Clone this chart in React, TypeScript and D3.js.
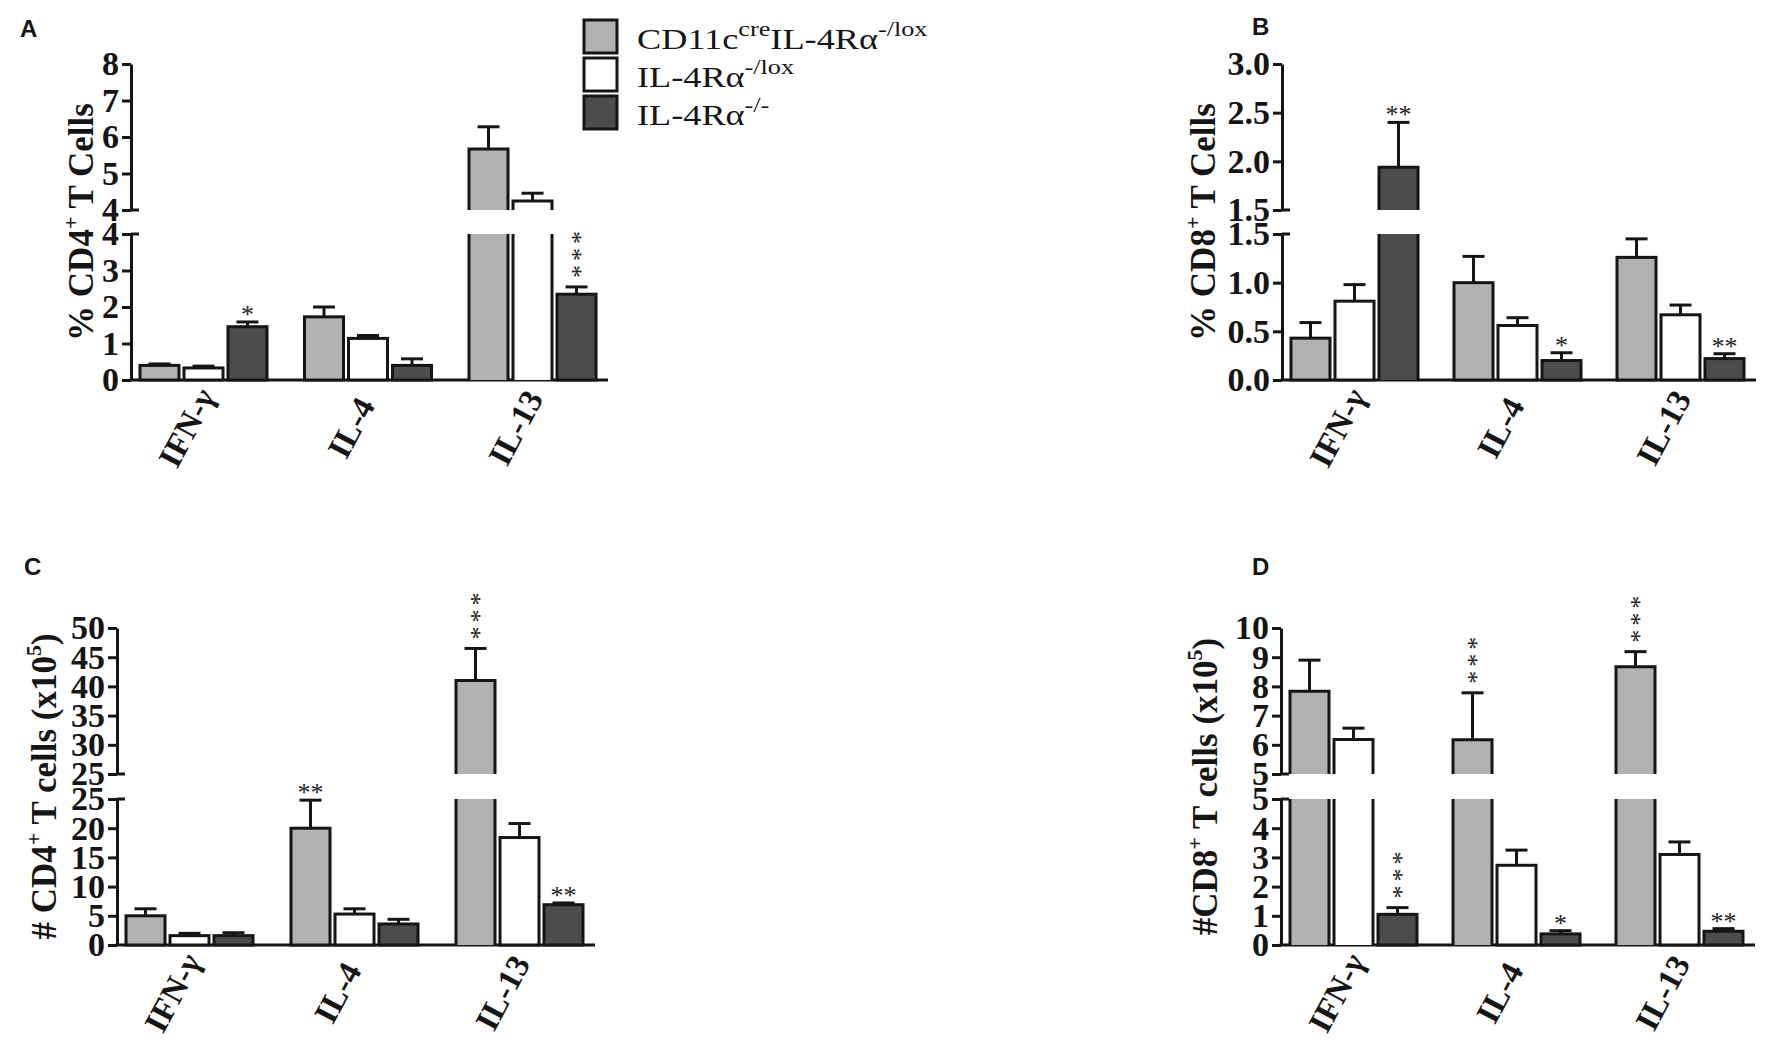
import React, { useEffect, useRef } from 'react';
import * as d3 from 'd3';

// categories and groups
const cytokines = ['IFN-γ', 'IL-4', 'IL-13'];
const strains = ['cre', 'flox', 'ko'];
const strainFills = ['#b1b1b1', '#ffffff', '#4c4c4c'];

// legend labels: [main, sup, main, sup]
const legendLabels = [
  ['CD11c', 'cre', 'IL-4Rα', '-/lox'],
  ['IL-4Rα', '-/lox', '', ''],
  ['IL-4Rα', '-/-', '', ''],
];

// A: % CD4+ T cells
const cd4PctCre = [0.40, 1.73, 5.67];
const cd4PctFlox = [0.33, 1.14, 4.25];
const cd4PctKo = [1.46, 0.40, 2.35];
const cd4PctCreErr = [0.44, 2.00, 6.28];
const cd4PctFloxErr = [0.38, 1.22, 4.46];
const cd4PctKoErr = [1.59, 0.58, 2.55];
const cd4PctStars = [['', '', '*'], ['', '', ''], ['', '', '***']];

// B: % CD8+ T cells
const cd8PctCre = [0.43, 1.00, 1.26];
const cd8PctFlox = [0.81, 0.56, 0.67];
const cd8PctKo = [1.94, 0.20, 0.22];
const cd8PctCreErr = [0.59, 1.27, 1.45];
const cd8PctFloxErr = [0.98, 0.64, 0.77];
const cd8PctKoErr = [2.40, 0.28, 0.27];
const cd8PctStars = [['', '', '**'], ['', '', '*'], ['', '', '**']];

// C: # CD4+ T cells (x10^5)
const cd4NumCre = [5.0, 20.0, 41.0];
const cd4NumFlox = [1.6, 5.3, 18.4];
const cd4NumKo = [1.6, 3.6, 6.9];
const cd4NumCreErr = [6.2, 24.8, 46.5];
const cd4NumFloxErr = [2.0, 6.2, 20.8];
const cd4NumKoErr = [2.1, 4.4, 7.2];
const cd4NumStars = [['', '', ''], ['**', '', ''], ['***', '', '**']];

// D: # CD8+ T cells (x10^5)
const cd8NumCre = [7.83, 6.17, 8.67];
const cd8NumFlox = [6.18, 2.73, 3.10];
const cd8NumKo = [1.05, 0.38, 0.47];
const cd8NumCreErr = [8.90, 7.78, 9.19];
const cd8NumFloxErr = [6.57, 3.25, 3.53];
const cd8NumKoErr = [1.28, 0.49, 0.56];
const cd8NumStars = [['', '', '***'], ['***', '', '*'], ['***', '', '**']];

// axis ticks
const cd4PctLowTicks = [0, 1, 2, 3, 4];
const cd4PctHighTicks = [4, 5, 6, 7, 8];
const cd8PctLowTicks = [0, 0.5, 1.0, 1.5];
const cd8PctHighTicks = [1.5, 2.0, 2.5, 3.0];
const cd4NumLowTicks = [0, 5, 10, 15, 20, 25];
const cd4NumHighTicks = [25, 30, 35, 40, 45, 50];
const cd8NumLowTicks = [0, 1, 2, 3, 4, 5];
const cd8NumHighTicks = [5, 6, 7, 8, 9, 10];

const SERIF = '"Liberation Serif", "Times New Roman", serif';
const SANS = '"Liberation Sans", Arial, sans-serif';
const INK = '#151515';

const topRow = { zeroY: 380, lowTopY: 234, upBotY: 210, topY: 64 };
const bottomRow = { zeroY: 945, lowTopY: 799, upBotY: 774, topY: 628 };

const panels = [
  {
    letter: 'A', letterX: 20, letterY: 37, ...topRow,
    axisX: 131, pitch: 164.5, titleX: 93,
    title: ['% CD4', '+', ' T Cells', '', ''],
    brk: 4, max: 8, lowTicks: cd4PctLowTicks, highTicks: cd4PctHighTicks, fmt: d3.format('d'),
    means: [cd4PctCre, cd4PctFlox, cd4PctKo], errs: [cd4PctCreErr, cd4PctFloxErr, cd4PctKoErr],
    stars: cd4PctStars,
  },
  {
    letter: 'B', letterX: 1252, letterY: 35, ...topRow,
    axisX: 1282, pitch: 163, titleX: 1215,
    title: ['% CD8', '+', ' T Cells', '', ''],
    brk: 1.5, max: 3, lowTicks: cd8PctLowTicks, highTicks: cd8PctHighTicks, fmt: d3.format('.1f'),
    means: [cd8PctCre, cd8PctFlox, cd8PctKo], errs: [cd8PctCreErr, cd8PctFloxErr, cd8PctKoErr],
    stars: cd8PctStars,
  },
  {
    letter: 'C', letterX: 24, letterY: 575, ...bottomRow,
    axisX: 117, pitch: 165, titleX: 56,
    title: ['# CD4', '+', ' T cells (x10', '5', ')'],
    brk: 25, max: 50, lowTicks: cd4NumLowTicks, highTicks: cd4NumHighTicks, fmt: d3.format('d'),
    means: [cd4NumCre, cd4NumFlox, cd4NumKo], errs: [cd4NumCreErr, cd4NumFloxErr, cd4NumKoErr],
    stars: cd4NumStars,
  },
  {
    letter: 'D', letterX: 1252, letterY: 575, ...bottomRow,
    axisX: 1281, pitch: 163, titleX: 1217,
    title: ['#CD8', '+', ' T cells (x10', '5', ')'],
    brk: 5, max: 10, lowTicks: cd8NumLowTicks, highTicks: cd8NumHighTicks, fmt: d3.format('d'),
    means: [cd8NumCre, cd8NumFlox, cd8NumKo], errs: [cd8NumCreErr, cd8NumFloxErr, cd8NumKoErr],
    stars: cd8NumStars,
  },
];

const GROUP_W = 127;

function drawPanel(svg: any, p: any) {
  const g = svg.append('g');

  const yLow = d3.scaleLinear().domain([0, p.brk]).range([p.zeroY, p.lowTopY]);
  const yHigh = d3.scaleLinear().domain([p.brk, p.max]).range([p.upBotY, p.topY]);
  const yOf = (v: number) => (v <= p.brk ? yLow(v) : yHigh(v));

  const start = p.axisX + 9;
  const x0 = d3.scaleBand()
    .domain(cytokines)
    .range([start, start + 2 * p.pitch + GROUP_W])
    .paddingInner((p.pitch - GROUP_W) / p.pitch)
    .paddingOuter(0);
  const x1 = d3.scaleBand().domain(strains).range([0, GROUP_W]).paddingInner(5 / 44);
  const bw = x1.bandwidth();
  const axisEnd = start + 2 * p.pitch + GROUP_W + 12;

  // panel letter
  g.append('text')
    .attr('x', p.letterX).attr('y', p.letterY)
    .style('font-family', SANS).style('font-weight', 'bold').style('font-size', '24px')
    .attr('fill', INK)
    .text(p.letter);

  // y axis, two segments
  const styleAxis = (sel: any) => {
    sel.selectAll('path, line').attr('stroke', INK).attr('stroke-width', 3);
    sel.selectAll('text')
      .attr('fill', INK)
      .style('font-family', SERIF).style('font-weight', 'bold').style('font-size', '34px');
  };
  g.append('g')
    .attr('transform', `translate(${p.axisX},0)`)
    .call(d3.axisLeft(yLow).tickValues(p.lowTicks).tickSize(9).tickSizeOuter(0).tickPadding(3).tickFormat(p.fmt))
    .call(styleAxis);
  g.append('g')
    .attr('transform', `translate(${p.axisX},0)`)
    .call(d3.axisLeft(yHigh).tickValues(p.highTicks).tickSize(9).tickSizeOuter(0).tickPadding(3).tickFormat(p.fmt))
    .call(styleAxis);

  // break stubs
  [p.lowTopY, p.upBotY].forEach((y: number) => {
    g.append('line')
      .attr('x1', p.axisX).attr('x2', p.axisX + 8)
      .attr('y1', y).attr('y2', y)
      .attr('stroke', INK).attr('stroke-width', 3);
  });

  // x axis line
  g.append('line')
    .attr('x1', p.axisX - 1.5).attr('x2', axisEnd)
    .attr('y1', p.zeroY).attr('y2', p.zeroY)
    .attr('stroke', INK).attr('stroke-width', 3);

  // bars
  cytokines.forEach((c, i) => {
    strains.forEach((s, j) => {
      const v = p.means[j][i];
      const e = p.errs[j][i];
      const x = (x0(c) as number) + (x1(s) as number);
      const cx = x + bw / 2;
      const fill = strainFills[j];

      // error bar
      g.append('line')
        .attr('x1', cx).attr('x2', cx).attr('y1', yOf(v)).attr('y2', yOf(e))
        .attr('stroke', INK).attr('stroke-width', 3);
      g.append('line')
        .attr('x1', cx - 11).attr('x2', cx + 11).attr('y1', yOf(e)).attr('y2', yOf(e))
        .attr('stroke', INK).attr('stroke-width', 3);

      if (v <= p.brk) {
        g.append('rect')
          .attr('x', x).attr('y', yLow(v)).attr('width', bw).attr('height', p.zeroY - yLow(v))
          .attr('fill', fill).attr('stroke', INK).attr('stroke-width', 3);
      } else {
        g.append('rect')
          .attr('x', x).attr('y', p.lowTopY).attr('width', bw).attr('height', p.zeroY - p.lowTopY)
          .attr('fill', fill);
        g.append('path')
          .attr('d', `M${x},${p.zeroY}V${p.lowTopY}M${x + bw},${p.lowTopY}V${p.zeroY}`)
          .attr('fill', 'none').attr('stroke', INK).attr('stroke-width', 3);
        g.append('rect')
          .attr('x', x).attr('y', yHigh(v)).attr('width', bw).attr('height', p.upBotY - yHigh(v))
          .attr('fill', fill);
        g.append('path')
          .attr('d', `M${x},${p.upBotY}V${yHigh(v)}H${x + bw}V${p.upBotY}`)
          .attr('fill', 'none').attr('stroke', INK).attr('stroke-width', 3);
      }

      // significance stars
      const st = p.stars[i][j];
      if (st) {
        const starText = g.append('text')
          .attr('fill', '#222')
          .style('font-family', SERIF).style('font-size', '26px')
          .text(st);
        if (st.length === 3) {
          // stacked vertically, as in the original
          starText
            .attr('text-anchor', 'start')
            .style('letter-spacing', '4px')
            .attr('transform', `translate(${cx + 12},${yOf(e) - 9}) rotate(-90)`);
        } else {
          starText.attr('text-anchor', 'middle').attr('x', cx).attr('y', yOf(e) + 1);
        }
      }
    });

    // category label
    const gx = (x0(c) as number) + GROUP_W / 2 - 7;
    g.append('text')
      .attr('transform', `translate(${gx},${p.zeroY + 53}) rotate(-62)`)
      .attr('text-anchor', 'middle')
      .attr('fill', INK)
      .style('font-family', SERIF).style('font-weight', 'bold').style('font-size', '33px')
      .text(c);
  });

  // y title
  const midY = (p.zeroY + p.topY) / 2;
  const t = g.append('text')
    .attr('transform', `translate(${p.titleX},${midY}) rotate(-90)`)
    .attr('text-anchor', 'middle')
    .attr('fill', INK)
    .style('font-family', SERIF).style('font-weight', 'bold').style('font-size', '35px')
    .style('white-space', 'pre');
  const [m1, s1, m2, s2, m3] = p.title;
  t.append('tspan').text(m1);
  t.append('tspan').attr('dy', -15).style('font-size', '22px').text(s1);
  t.append('tspan').attr('dy', 15).text(m2);
  if (s2) {
    t.append('tspan').attr('dy', -15).style('font-size', '22px').text(s2);
    t.append('tspan').attr('dy', 15).text(m3);
  }
}

function drawLegend(svg: any) {
  const rows = d3.scalePoint().domain(strains).range([20, 96]);
  const g = svg.append('g');
  strains.forEach((s, i) => {
    const y = rows(s) as number;
    g.append('rect')
      .attr('x', 584).attr('y', y).attr('width', 33).attr('height', 33)
      .attr('fill', strainFills[i]).attr('stroke', INK).attr('stroke-width', 3);
    const [a, sa, b, sb] = legendLabels[i];
    // the original legend font is drawn wide
    const t = g.append('text')
      .attr('transform', `translate(637,${y + 29}) scale(1.25,1)`)
      .attr('fill', INK)
      .style('font-family', SERIF).style('font-size', '29px');
    t.append('tspan').text(a);
    t.append('tspan').attr('dy', -13).style('font-size', '21px').text(sa);
    if (b) {
      t.append('tspan').attr('dy', 13).text(b);
      t.append('tspan').attr('dy', -13).style('font-size', '21px').text(sb);
    }
  });
}

export default function App() {
  const svgRef = useRef<SVGSVGElement>(null);

  useEffect(() => {
    if (!svgRef.current) return;
    const svg = d3.select(svgRef.current);
    svg.selectAll('*').remove();
    svg.append('rect').attr('width', 1772).attr('height', 1052).attr('fill', '#fff');
    panels.forEach((p) => drawPanel(svg, p));
    drawLegend(svg);
  }, []);

  return (
    <svg
      ref={svgRef}
      width={1772}
      height={1052}
      style={{ position: 'absolute', left: 0, top: 0, background: '#fff' }}
    />
  );
}
